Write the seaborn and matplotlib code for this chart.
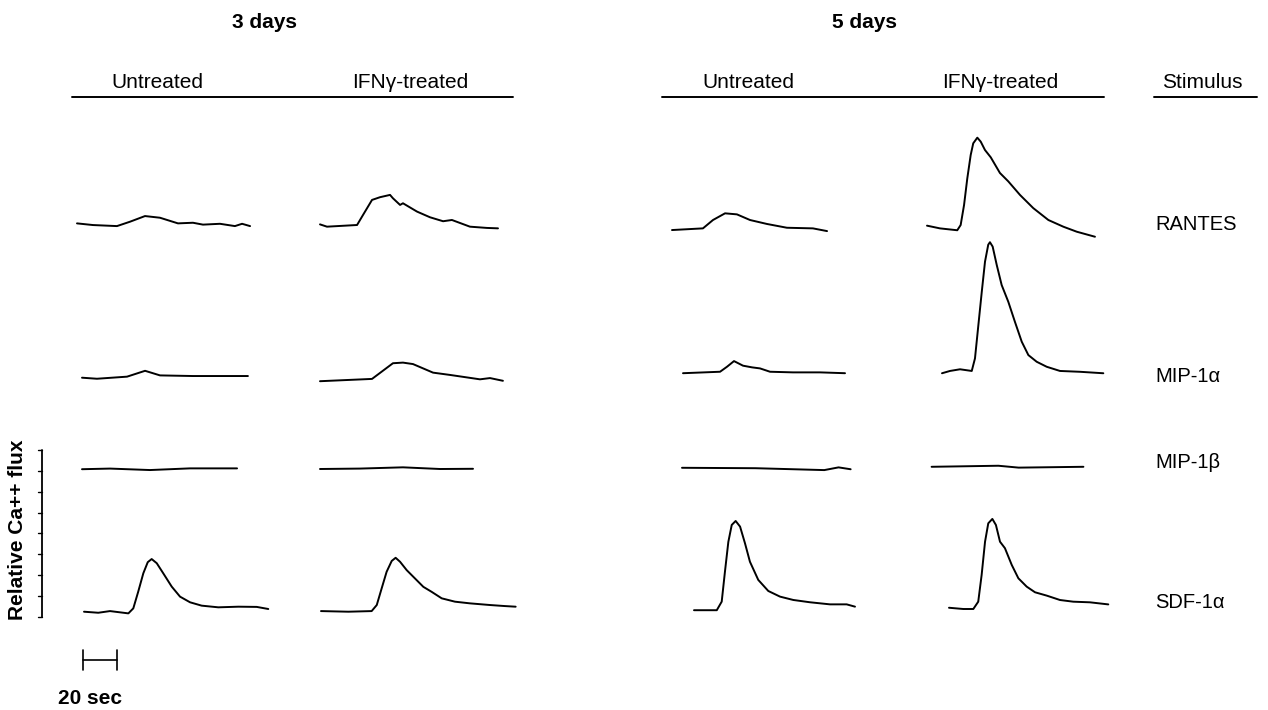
import numpy as np
import pandas as pd
import matplotlib
matplotlib.use("Agg")
import matplotlib.pyplot as plt
import seaborn as sns

# ------------------------------------------------------------------
# Data: each trace = time (s, from start of recording) and relative
# Ca++ flux (in units of the scale-bar tick spacing, above baseline)
# ------------------------------------------------------------------
days = ["3 days", "5 days"]
treatments = ["Untreated", "IFNγ-treated"]
stimuli = ["RANTES", "MIP-1α", "MIP-1β", "SDF-1α"]

# RANTES
rantes_3d_untr_t = [0, 9.4, 23.5, 31.2, 40, 48.8, 59.4, 68.2, 74.1, 84.1, 92.9, 97.1, 101.8]
rantes_3d_untr_f = [0.03, -0.05, -0.10, 0.11, 0.38, 0.30, 0.03, 0.06, -0.03, 0.01, -0.10, 0.01, -0.10]
rantes_3d_ifn_t = [0, 4.1, 21.8, 25.3, 30.6, 35.3, 41.2, 42.9, 47.1, 48.8, 57.1, 64.7, 72.4, 77.6, 88.2, 98.2, 104.7]
rantes_3d_ifn_f = [0.03, -0.08, 0, 0.48, 1.20, 1.33, 1.44, 1.28, 0.96, 1.04, 0.64, 0.37, 0.18, 0.24, -0.08, -0.14, -0.16]
rantes_5d_untr_t = [0, 18.2, 24.1, 31.2, 38.2, 45.9, 55.9, 67.6, 82.9, 91.2]
rantes_5d_untr_f = [-0.05, 0.03, 0.43, 0.75, 0.70, 0.43, 0.24, 0.06, 0.03, -0.10]
rantes_5d_ifn_t = [0, 7.6, 17.8, 19.8, 21.8, 23.7, 25.7, 27.2, 29.6, 31.6, 34.1, 37.5, 42.9, 47.8,
                   54.7, 62.5, 71.4, 80.2, 88.1, 98.8]
rantes_5d_ifn_f = [0.16, 0.03, -0.06, 0.19, 1.15, 2.42, 3.54, 4.10, 4.37, 4.18, 3.78, 3.43, 2.68, 2.28,
                   1.63, 1.00, 0.43, 0.11, -0.13, -0.37]

# MIP-1alpha
mip1a_3d_untr_t = [0, 8.8, 26.5, 37.1, 45.9, 65.3, 97.6]
mip1a_3d_untr_f = [0, -0.05, 0.05, 0.33, 0.11, 0.08, 0.08]
mip1a_3d_ifn_t = [0, 30.6, 42.9, 48.8, 54.7, 66.5, 76.5, 94.1, 100, 107.6]
mip1a_3d_ifn_f = [-0.01, 0.10, 0.85, 0.88, 0.81, 0.40, 0.29, 0.08, 0.14, 0.01]
mip1a_5d_untr_t = [0, 21.8, 25.9, 30, 35.3, 40.6, 45.3, 51.2, 64.7, 80.6, 95.3]
mip1a_5d_untr_f = [-0.01, 0.06, 0.30, 0.57, 0.35, 0.27, 0.22, 0.06, 0.03, 0.03, -0.01]
mip1a_5d_ifn_t = [0, 4.7, 10.6, 17.5, 19.4, 21.4, 23.4, 25.3, 27.2, 28.2, 29.8, 32.2, 35.1, 39.0,
                  42.9, 46.9, 50.8, 55.7, 61.6, 69.4, 81.2, 94.9]
mip1a_5d_ifn_f = [-0.06, 0.05, 0.13, 0.05, 0.65, 2.25, 3.84, 5.28, 6.09, 6.21, 6.00, 5.12, 4.16, 3.36,
                  2.40, 1.45, 0.81, 0.49, 0.25, 0.05, 0.01, -0.06]

# MIP-1beta
mip1b_3d_untr_t = [0, 16.5, 40, 63.5, 91.2]
mip1b_3d_untr_f = [-0.01, 0.02, -0.05, 0.03, 0.03]
mip1b_3d_ifn_t = [0, 23.5, 48.8, 70.6, 90]
mip1b_3d_ifn_f = [0, 0.02, 0.08, 0, 0.01]
mip1b_5d_untr_t = [0, 43.2, 83.7, 92.1, 99.2]
mip1b_5d_untr_f = [0.01, -0.01, -0.10, 0.03, -0.06]
mip1b_5d_ifn_t = [0, 39.3, 51.2, 89.3]
mip1b_5d_ifn_f = [0.01, 0.06, -0.03, 0.01]

# SDF-1alpha
sdf_3d_untr_t = [0, 8.4, 15.3, 26.1, 29.0, 31.9, 34.9, 37.5, 39.8, 42.8, 46.6, 51.6, 56.5, 62.4,
                 69.2, 79.0, 90.8, 101.6, 108.4]
sdf_3d_untr_f = [-0.01, -0.06, 0.02, -0.09, 0.15, 0.95, 1.83, 2.36, 2.51, 2.31, 1.83, 1.19, 0.71, 0.44,
                 0.28, 0.20, 0.23, 0.22, 0.12]
sdf_3d_ifn_t = [0, 16.1, 29.8, 32.8, 35.7, 38.6, 41.6, 43.9, 46.5, 50.4, 55.3, 60.2, 65.1, 71.0,
                78.8, 87.6, 99.4, 108.2, 114.5]
sdf_3d_ifn_f = [0.02, -0.01, 0.02, 0.31, 1.11, 1.90, 2.42, 2.57, 2.38, 1.98, 1.58, 1.18, 0.94, 0.63,
                0.47, 0.39, 0.31, 0.26, 0.23]
sdf_5d_untr_t = [0, 13.4, 16.3, 18.2, 20.2, 22.2, 24.5, 27.1, 30, 32.9, 37.8, 43.7, 50.6, 58.4,
                 68.2, 80, 89.8, 94.7]
sdf_5d_untr_f = [-0.01, -0.01, 0.40, 1.83, 3.26, 4.07, 4.26, 3.99, 3.19, 2.31, 1.44, 0.91, 0.64, 0.48,
                 0.37, 0.27, 0.27, 0.16]
sdf_5d_ifn_t = [0, 8.4, 14.3, 17.2, 19.2, 21.2, 23.1, 25.5, 27.6, 30, 32.9, 36.9, 40.8, 45.7,
                50.6, 57.5, 65.3, 73.1, 82.9, 93.7]
sdf_5d_ifn_f = [0.06, 0, 0, 0.35, 1.63, 3.22, 4.10, 4.31, 4.02, 3.22, 2.91, 2.11, 1.47, 1.07,
                0.80, 0.64, 0.43, 0.35, 0.32, 0.22]

scale_bar_sec = 20
flux_ticks = list(range(9))

traces = {
    ("3 days", "Untreated", "RANTES"): (rantes_3d_untr_t, rantes_3d_untr_f),
    ("3 days", "IFNγ-treated", "RANTES"): (rantes_3d_ifn_t, rantes_3d_ifn_f),
    ("5 days", "Untreated", "RANTES"): (rantes_5d_untr_t, rantes_5d_untr_f),
    ("5 days", "IFNγ-treated", "RANTES"): (rantes_5d_ifn_t, rantes_5d_ifn_f),
    ("3 days", "Untreated", "MIP-1α"): (mip1a_3d_untr_t, mip1a_3d_untr_f),
    ("3 days", "IFNγ-treated", "MIP-1α"): (mip1a_3d_ifn_t, mip1a_3d_ifn_f),
    ("5 days", "Untreated", "MIP-1α"): (mip1a_5d_untr_t, mip1a_5d_untr_f),
    ("5 days", "IFNγ-treated", "MIP-1α"): (mip1a_5d_ifn_t, mip1a_5d_ifn_f),
    ("3 days", "Untreated", "MIP-1β"): (mip1b_3d_untr_t, mip1b_3d_untr_f),
    ("3 days", "IFNγ-treated", "MIP-1β"): (mip1b_3d_ifn_t, mip1b_3d_ifn_f),
    ("5 days", "Untreated", "MIP-1β"): (mip1b_5d_untr_t, mip1b_5d_untr_f),
    ("5 days", "IFNγ-treated", "MIP-1β"): (mip1b_5d_ifn_t, mip1b_5d_ifn_f),
    ("3 days", "Untreated", "SDF-1α"): (sdf_3d_untr_t, sdf_3d_untr_f),
    ("3 days", "IFNγ-treated", "SDF-1α"): (sdf_3d_ifn_t, sdf_3d_ifn_f),
    ("5 days", "Untreated", "SDF-1α"): (sdf_5d_untr_t, sdf_5d_untr_f),
    ("5 days", "IFNγ-treated", "SDF-1α"): (sdf_5d_ifn_t, sdf_5d_ifn_f),
}

# ------------------------------------------------------------------
# Layout (canvas coordinates, pixels of the 1268 x 710 figure)
# ------------------------------------------------------------------
PX_PER_SEC = 1.7
PX_PER_UNIT = 20.9

trace_start = {
    ("3 days", "Untreated", "RANTES"): 77, ("3 days", "IFNγ-treated", "RANTES"): 320,
    ("5 days", "Untreated", "RANTES"): 672, ("5 days", "IFNγ-treated", "RANTES"): 927,
    ("3 days", "Untreated", "MIP-1α"): 82, ("3 days", "IFNγ-treated", "MIP-1α"): 320,
    ("5 days", "Untreated", "MIP-1α"): 683, ("5 days", "IFNγ-treated", "MIP-1α"): 942,
    ("3 days", "Untreated", "MIP-1β"): 82, ("3 days", "IFNγ-treated", "MIP-1β"): 320,
    ("5 days", "Untreated", "MIP-1β"): 682, ("5 days", "IFNγ-treated", "MIP-1β"): 931.6,
    ("3 days", "Untreated", "SDF-1α"): 84, ("3 days", "IFNγ-treated", "SDF-1α"): 321,
    ("5 days", "Untreated", "SDF-1α"): 694, ("5 days", "IFNγ-treated", "SDF-1α"): 949,
}
trace_base = {
    ("3 days", "Untreated", "RANTES"): 224, ("3 days", "IFNγ-treated", "RANTES"): 225,
    ("5 days", "Untreated", "RANTES"): 229, ("5 days", "IFNγ-treated", "RANTES"): 229,
    ("3 days", "Untreated", "MIP-1α"): 377.7, ("3 days", "IFNγ-treated", "MIP-1α"): 381,
    ("5 days", "Untreated", "MIP-1α"): 373, ("5 days", "IFNγ-treated", "MIP-1α"): 372,
    ("3 days", "Untreated", "MIP-1β"): 469, ("3 days", "IFNγ-treated", "MIP-1β"): 469,
    ("5 days", "Untreated", "MIP-1β"): 468, ("5 days", "IFNγ-treated", "MIP-1β"): 467,
    ("3 days", "Untreated", "SDF-1α"): 611.5, ("3 days", "IFNγ-treated", "SDF-1α"): 611.5,
    ("5 days", "Untreated", "SDF-1α"): 610, ("5 days", "IFNγ-treated", "SDF-1α"): 609,
}

rows = []
for key, (t, f) in traces.items():
    x0 = trace_start[key]
    b = trace_base[key]
    for ti, fi in zip(t, f):
        rows.append({"trace": " / ".join(key),
                     "x": x0 + ti * PX_PER_SEC,
                     "y": b - fi * PX_PER_UNIT})
df = pd.DataFrame(rows)

sns.set_theme(style="white")
plt.rcParams["font.family"] = ["Liberation Sans", "DejaVu Sans"]
plt.rcParams["text.color"] = "black"

fig = plt.figure(figsize=(12.68, 7.10), dpi=100)
ax = fig.add_axes([0, 0, 1, 1])
ax.set_xlim(0, 1268)
ax.set_ylim(710, 0)
ax.axis("off")

sns.lineplot(data=df, x="x", y="y", units="trace", estimator=None, sort=False,
             color="black", linewidth=1.4, legend=False, ax=ax)

# Headers
day_x = {"3 days": 264, "5 days": 865}
for d in days:
    ax.text(day_x[d], 22, d, ha="center", va="center", fontsize=15, fontweight="bold")

treat_x = {("3 days", "Untreated"): 157, ("3 days", "IFNγ-treated"): 410,
           ("5 days", "Untreated"): 748, ("5 days", "IFNγ-treated"): 1000}
for (d, tr), xx in treat_x.items():
    ax.text(xx, 83, tr, ha="center", va="center", fontsize=15)
ax.text(1202, 83, "Stimulus", ha="center", va="center", fontsize=15)

for xa, xb in [(72, 513), (662, 1104), (1154, 1257)]:
    ax.plot([xa, xb], [97, 97], color="black", lw=1.4)

stim_y = {"RANTES": 224, "MIP-1α": 376, "MIP-1β": 462, "SDF-1α": 603}
for s in stimuli:
    ax.text(1155, stim_y[s], s, ha="left", va="center", fontsize=14.5)

# Relative Ca++ flux scale bar
ybot = 617
ytop = ybot - flux_ticks[-1] * PX_PER_UNIT
ax.plot([42, 42], [ybot, ytop], color="black", lw=1.3)
for k in flux_ticks:
    yy = ybot - k * PX_PER_UNIT
    ax.plot([38, 42], [yy, yy], color="black", lw=1.0)
ax.text(18, 530, "Relative Ca++ flux", rotation=90, ha="center", va="center",
        fontsize=15, fontweight="bold")

# Time scale bar
xs0 = 83
xs1 = xs0 + scale_bar_sec * PX_PER_SEC
ax.plot([xs0, xs1], [660, 660], color="black", lw=1.2)
ax.plot([xs0, xs0], [650, 670], color="black", lw=1.2)
ax.plot([xs1, xs1], [650, 670], color="black", lw=1.2)
ax.text(90, 699, f"{scale_bar_sec} sec", ha="center", va="center", fontsize=15,
        fontweight="bold")

fig.savefig("out.png", dpi=100)
